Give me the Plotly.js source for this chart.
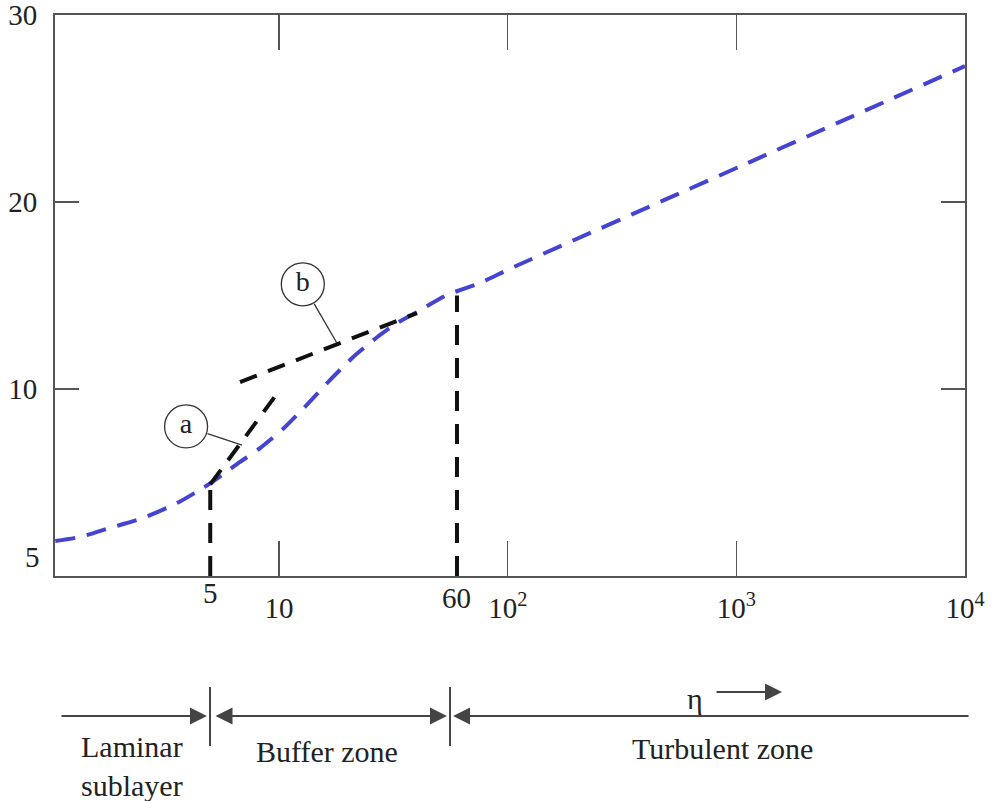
<!DOCTYPE html>
<html>
<head>
<meta charset="utf-8">
<script src="https://cdn.plot.ly/plotly-3.0.1.min.js"></script>
<style>html,body{margin:0;padding:0;background:#fff;}#chart{width:999px;height:801px;}</style>
</head>
<body>
<div id="chart"></div>
<script>
// ---- data ----
const etaCurve = [1.05, 1.35, 1.82, 2.54, 3.58, 4.65, 5.63, 6.75, 8.26, 10.4, 13.2, 16.7, 21.1, 26.9, 32.8, 40.1, 54.3, 75.7, 104, 1072, 10000];
const uCurve   = [1.87, 2.09, 2.57, 3.10, 3.90, 4.71, 5.40, 6.10, 6.84, 7.86, 9.14, 10.48, 11.71, 12.78, 13.53, 14.12, 15.03, 15.67, 16.47, 21.98, 27.27];

const tangentAEta = [5, 9.6];
const tangentAU   = [4.9, 9.6];
const tangentBEta = [6.75, 40.1];
const tangentBU   = [10.37, 14.06];

const laminarEdge = 5;
const bufferEdge  = 60;
const laminarEdgeU = 4.9;
const bufferEdgeU  = 15.0;

const xTickVals = [10, 100, 1000, 10000];
const xTickText = ['10', '10<sup>2</sup>', '10<sup>3</sup>', '10<sup>4</sup>'];
const yTickVals = [10, 20, 30];
const yTickText = ['10', '20', '30'];

const labelNames = ['a', 'b'];
const labelEta   = [3.92, 12.7];
const labelU     = [8.0, 15.6];
const leaderEta  = [6.89, 17.9];
const leaderU    = [7.0, 12.46];

const zoneNames = ['Laminar<br>sublayer', 'Buffer zone', 'Turbulent zone'];

// ---- styles ----
const FONT = '"Liberation Serif", "Times New Roman", serif';
const AX = '#555';
const TXT = '#222';

const traces = [
  {x: etaCurve, y: uCurve, mode: 'lines', line: {color: '#4444d2', width: 4, dash: '20px,12px', shape: 'spline', smoothing: 0.6}, hoverinfo: 'skip'},
  {x: tangentAEta, y: tangentAU, mode: 'lines', line: {color: '#111', width: 4, dash: '18px,12px'}},
  {x: tangentBEta, y: tangentBU, mode: 'lines', line: {color: '#111', width: 4, dash: '18px,12px'}},
  {x: [laminarEdge, laminarEdge], y: [0, laminarEdgeU], mode: 'lines', line: {color: '#111', width: 4, dash: '20px,13px'}},
  {x: [bufferEdge, bufferEdge], y: [0, bufferEdgeU], mode: 'lines', line: {color: '#111', width: 4, dash: '20px,13px'}},
  {x: labelEta, y: labelU, mode: 'markers+text', text: labelNames, textposition: 'middle center',
   textfont: {family: FONT, size: 28, color: TXT},
   marker: {symbol: 'circle-open', size: 43, color: '#333', line: {width: 1.3}}}
];

const annotations = [];
// leader lines from circled labels
for (let i = 0; i < labelNames.length; i++) {
  annotations.push({
    x: Math.log10(leaderEta[i]), y: leaderU[i], xref: 'x', yref: 'y',
    axref: 'x', ayref: 'y', ax: Math.log10(labelEta[i]), ay: labelU[i],
    text: '', showarrow: true, arrowhead: 0, arrowwidth: 1.3, arrowcolor: '#333',
    startstandoff: 21
  });
}
const txt = (extra) => Object.assign({showarrow: false, xanchor: 'center', yanchor: 'middle',
  font: {family: FONT, size: 30, color: TXT}}, extra);
// x labels 5 and 60
annotations.push(txt({x: Math.log10(laminarEdge), y: -0.031, xref: 'x', yref: 'paper', text: '5', font: {family: FONT, size: 29, color: TXT}}));
annotations.push(txt({x: Math.log10(bufferEdge), y: -0.040, xref: 'x', yref: 'paper', text: '60', font: {family: FONT, size: 29, color: TXT}}));
// y label "5"
annotations.push(txt({x: -0.014, y: 1.0, xref: 'paper', yref: 'y', text: '5', xanchor: 'right', font: {family: FONT, size: 29, color: TXT}}));

// zone arrows below the chart
const lineY = -0.2496;
const arrowStyle = {showarrow: true, arrowhead: 2, arrowsize: 1.7, arrowwidth: 2, arrowcolor: '#444', text: '',
  xref: 'paper', yref: 'paper', ay: 0, xanchor: 'center', yanchor: 'middle'};
annotations.push(Object.assign({}, arrowStyle, {x: 0.167, y: lineY, ax: -147}));
annotations.push(Object.assign({}, arrowStyle, {x: 0.4308, y: lineY, ax: -233, arrowside: 'end+start', startarrowhead: 2, startarrowsize: 1.7}));
annotations.push(Object.assign({}, arrowStyle, {x: 0.4374, y: lineY, ax: 517}));
annotations.push(Object.assign({}, arrowStyle, {x: 0.7989, y: -0.2068, ax: -67}));
annotations.push(txt({x: 0.7033, y: -0.2175, xref: 'paper', yref: 'paper', text: 'η'}));
annotations.push(txt({x: 0.0846, y: -0.3387, xref: 'paper', yref: 'paper', text: zoneNames[0], align: 'left'}));
annotations.push(txt({x: 0.2989, y: -0.3137, xref: 'paper', yref: 'paper', text: zoneNames[1]}));
annotations.push(txt({x: 0.733, y: -0.3066, xref: 'paper', yref: 'paper', text: zoneNames[2]}));

const shapes = [
  {type: 'line', xref: 'paper', yref: 'paper', x0: 0.1703, x1: 0.1703, y0: -0.1979, y1: -0.303, line: {color: '#444', width: 2}},
  {type: 'line', xref: 'paper', yref: 'paper', x0: 0.4341, x1: 0.4341, y0: -0.1979, y1: -0.303, line: {color: '#444', width: 2}}
];

const layout = {
  width: 999, height: 801,
  margin: {l: 55, r: 34, t: 15, b: 225},
  paper_bgcolor: '#fff', plot_bgcolor: '#fff',
  showlegend: false,
  font: {family: FONT, size: 29, color: TXT},
  xaxis: {
    type: 'log', range: [0.02, 4],
    tickvals: xTickVals, ticktext: xTickText,
    ticks: 'inside', ticklen: 35, tickwidth: 1.5, tickcolor: AX,
    showline: true, linecolor: AX, linewidth: 2, mirror: 'ticks',
    showgrid: false, zeroline: false,
    tickfont: {family: FONT, size: 29, color: TXT},
    ticklabelstandoff: 5, ticklabeloverflow: 'allow'
  },
  yaxis: {
    range: [0, 30],
    tickvals: yTickVals, ticktext: yTickText,
    ticks: 'inside', ticklen: 24, tickwidth: 1.5, tickcolor: AX,
    showline: true, linecolor: AX, linewidth: 2, mirror: 'ticks',
    showgrid: false, zeroline: false,
    tickfont: {family: FONT, size: 29, color: TXT},
    ticklabelstandoff: 10, ticklabeloverflow: 'allow'
  },
  annotations: annotations,
  shapes: shapes
};

Plotly.newPlot('chart', traces, layout, {displayModeBar: false, staticPlot: true});
</script>
</body>
</html>
